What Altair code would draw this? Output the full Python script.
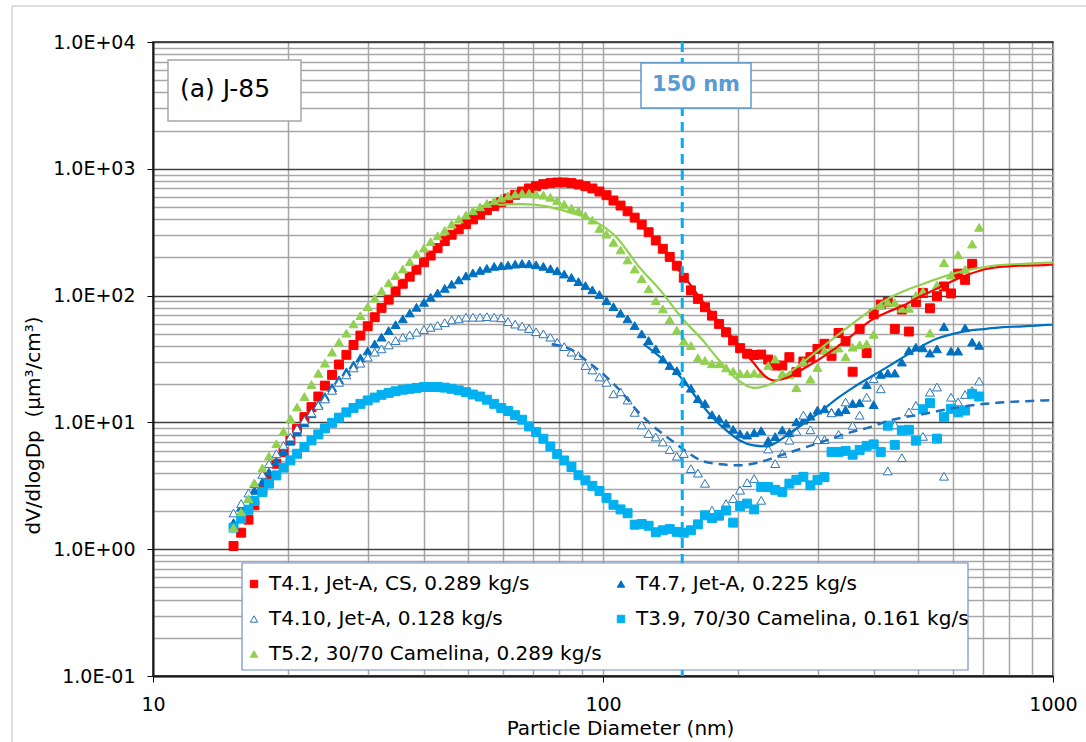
import altair as alt
import pandas as pd

FONT = "DejaVu Sans"

# SMPS bin mid-point diameters (nm), 64 channels per decade
diameter_nm = [15.1, 15.7, 16.3, 16.8, 17.5, 18.1, 18.8, 19.5, 20.2, 20.9,
               21.7, 22.5, 23.3, 24.1, 25.0, 25.9, 26.9, 27.9, 28.9, 30.0,
               31.1, 32.2, 33.4, 34.6, 35.9, 37.2, 38.5, 40.0, 41.4, 42.9,
               44.5, 46.1, 47.8, 49.6, 51.4, 53.3, 55.2, 57.3, 59.4, 61.5,
               63.8, 66.1, 68.5, 71.0, 73.7, 76.4, 79.1, 82.0, 85.1, 88.2,
               91.4, 94.7, 98.2, 101.8, 105.5, 109.4, 113.4, 117.6, 121.9, 126.3,
               131.0, 135.8, 140.7, 145.9, 151.2, 156.8, 162.5, 168.5, 174.7, 181.1,
               187.7, 194.6, 201.7, 209.1, 216.7, 224.7, 232.9, 241.4, 250.3, 259.5,
               269.0, 278.8, 289.0, 299.6, 310.6, 322.0, 333.8, 346.0, 358.7, 371.8,
               385.4, 399.5, 414.2, 429.4, 445.1, 461.4, 478.3, 495.8, 514.0, 532.8,
               552.3, 572.5, 593.5, 615.3, 637.8, 661.2, 685.4]

# dV/dlogDp (um^3/cm^3) per test point
t4_1 = [1.06, 1.35, 1.71, 2.22, 2.91, 3.71, 4.72, 5.83, 7.21, 8.91,
        11.0, 13.2, 16.0, 19.5, 23.7, 28.6, 34.1, 40.8, 48.4, 57.3,
        67.5, 80.0, 92.9, 108, 124, 141, 160, 183, 207, 237,
        269, 302, 333, 366, 399, 435, 472, 508, 546, 583,
        624, 662, 700, 729, 757, 771, 780, 780, 771, 752,
        729, 700, 662, 619, 562, 513, 462, 412, 363, 316,
        272, 234, 202, 172, 138, 110, 94.2, 80.9, 69.5, 59.8,
        51.4, 44.2, 38.5, 34.8, 34.0, 34.3, 31.3, 28.1, 28.1, 32.7,
        24.9, 30.2, 32.7, 38.0, 41.7, 33.5, 50.7, 43.7, 25.1, 54.6,
        35.2, 71.3, 84.9, 89.1, 54.6, 77.6, 52.1, 88.7, 105, 79.4,
        98.9, 118, 104, 149, 133, 178]

t4_7 = [1.62, 2.15, 2.51, 2.91, 3.39, 4.06, 4.93, 5.90, 7.13, 8.39,
        9.93, 11.7, 13.8, 16.0, 18.8, 21.7, 25.1, 28.4, 32.3, 36.6,
        41.6, 47.0, 53.0, 59.0, 65.5, 72.9, 80.9, 88.5, 97.0, 105,
        114, 123, 133, 143, 151, 158, 164, 170, 172, 174,
        177, 179, 178, 175, 170, 163, 157, 148, 139, 129,
        120, 111, 102, 91.2, 81.8, 72.6, 65.5, 58.1, 49.9, 44.2,
        38.0, 31.6, 28.1, 25.6, 21.1, 18.6, 15.4, 14.1, 11.5, 10.7,
        9.84, 8.83, 8.13, 7.94, 8.32, 8.61, 7.18, 7.73, 8.71, 8.32,
        10.1, 10.4, 11.2, 12.5, 12.8, 12.0, 12.1, 12.6, 14.1, 14.3,
        19.9, 13.8, 23.9, 24.5, 24.5, 29.9, 36.9, 39.2, 38.7, 35.2,
        38.0, 57.0, 36.5, 36.5, 55.7, 43.0, 40.5]

t4_10 = [1.93, 2.29, 2.77, 3.29, 3.89, 4.72, 5.66, 6.59, 7.66, 8.91,
         10.4, 11.9, 13.6, 15.3, 17.9, 20.7, 23.7, 26.9, 29.3, 32.7,
         35.8, 38.0, 40.8, 44.2, 47.0, 49.0, 51.4, 54.0, 56.2, 58.3,
         61.1, 64.3, 65.5, 67.5, 67.5, 67.5, 68.2, 67.5, 66.8, 62.4,
         59.6, 57.5, 55.0, 51.9, 49.9, 47.0, 42.9, 39.6, 35.8, 33.7,
         28.1, 25.9, 22.8, 20.7, 16.8, 17.4, 15.0, 12.0, 9.55, 8.18,
         7.67, 7.00, 6.11, 5.41, 5.68, 4.32, 3.98, 3.31, 2.03, 1.82,
         2.29, 2.51, 2.92, 3.35, 3.61, 2.43, 6.17, 4.73, 5.69, 7.24,
         8.51, 11.4, 8.75, 7.31, 7.31, 11.9, 8.05, 14.5, 9.48, 11.4,
         15.8, 22.1, 18.4, 4.14, 9.55, 5.27, 12.1, 13.6, 7.76, 17.3,
         19.0, 3.76, 15.8, 14.5, 16.6, 17.8, 21.2]

t3_9 = [1.48, 1.74, 2.05, 2.40, 2.82, 3.29, 3.82, 4.40, 5.02, 5.66,
        6.40, 7.21, 8.04, 8.97, 9.93, 10.9, 12.0, 13.0, 14.0, 14.9,
        15.7, 16.5, 17.1, 17.6, 18.1, 18.4, 18.7, 19.0, 19.0, 19.0,
        18.8, 18.4, 17.9, 17.3, 16.6, 16.0, 15.1, 14.0, 13.0, 12.3,
        11.4, 10.5, 9.29, 8.39, 7.43, 6.46, 5.62, 5.01, 4.45, 3.83,
        3.49, 3.16, 2.88, 2.54, 2.24, 2.06, 1.92, 1.56, 1.58, 1.53,
        1.36, 1.41, 1.44, 1.37, 1.35, 1.41, 1.57, 1.85, 1.76, 1.86,
        2.02, 1.62, 2.19, 2.29, 2.06, 3.10, 3.09, 2.94, 2.83, 3.29,
        3.52, 3.72, 3.19, 3.52, 3.70, 5.85, 5.85, 5.96, 5.56, 6.07,
        6.53, 6.71, 5.85, 9.42, 6.65, 8.65, 8.75, 7.18, 12.7, 14.2,
        7.45, 11.0, 12.8, 12.0, 12.4, 16.8, 16.0]

t5_2 = [1.48, 1.97, 2.51, 3.33, 4.37, 5.43, 6.79, 8.51, 10.7, 13.2,
        16.0, 19.9, 24.4, 29.3, 35.8, 42.9, 50.5, 59.8, 69.5, 81.8,
        95.3, 109, 126, 144, 162, 185, 213, 237, 266, 296,
        327, 366, 401, 432, 467, 501, 533, 560, 587, 612,
        631, 643, 643, 631, 619, 596, 562, 525, 490, 468,
        427, 394, 339, 305, 263, 229, 191, 162, 136, 113,
        91.2, 78.5, 64.6, 53.3, 43.7, 40.4, 32.3, 30.8, 29.0, 29.0,
        26.9, 25.4, 24.3, 24.2, 24.5, 24.2, 28.1, 31.6, 24.3, 23.7,
        18.8, 30.1, 21.9, 27.1, 36.9, 37.7, 38.6, 32.9, 39.2, 40.9,
        41.7, 49.5, 83.4, 88.7, 88.1, 79.4, 79.4, 100, 108, 50.7,
        121, 182, 145, 210, 161, 255, 345]

# Fitted curves
fit_t4_1_d = [145, 152, 166, 181, 198, 216, 228, 240, 256, 279, 304, 331, 361,
              393, 428, 465, 506, 551, 600, 653, 711, 774, 841, 973, 1000]
fit_t4_1_v = [170, 139, 91, 62, 42.9, 29.5, 23.5, 21.4, 22.5, 26.5, 31.8, 39.2, 49.9,
              63.5, 74.0, 83.4, 98.2, 113, 131, 148, 162, 169, 172, 175, 176]

fit_t5_2_d = [58.6, 66, 75, 84, 96, 107, 120, 135, 150, 166, 181, 198, 216, 236,
              257, 307, 366, 436, 519, 618, 736, 877, 1000]
fit_t5_2_v = [520, 527, 505, 455, 385, 290, 170, 107, 66, 45, 31, 22, 18.7, 20.1,
              24.2, 39.2, 63.5, 97, 125, 153, 172, 179, 183]

fit_t4_7_d = [123, 151, 163, 175, 188, 201, 216, 232, 240, 256, 279, 304, 331, 361,
              393, 428, 465, 506, 551, 600, 653, 711, 774, 841, 973, 1000]
fit_t4_7_v = [41.6, 21.4, 14.9, 11.0, 8.65, 7.23, 6.59, 6.47, 6.79, 7.91, 9.77, 12.1,
              15.4, 19.0, 22.8, 27.3, 32.7, 39.2, 45.6, 49.9, 53.1, 54.7, 56.4, 57.0,
              58.7, 59.0]

fit_t4_10_d = [76.9, 85.1, 92.7, 101, 110, 119, 130, 142, 152, 165, 183, 201, 224,
               248, 276, 306, 347, 392, 436, 519, 618, 736, 957, 1000]
fit_t4_10_v = [41.6, 37.4, 29.9, 23.4, 17.3, 12.4, 9.18, 7.21, 6.01, 5.02, 4.67, 4.59,
               4.88, 5.50, 6.21, 7.00, 8.15, 9.18, 10.4, 11.7, 13.2, 14.2, 14.9, 15.0]

cutoff_nm = 150

series_names = ["T4.1, Jet-A, CS, 0.289 kg/s",
                "T4.7, Jet-A, 0.225 kg/s",
                "T4.10, Jet-A, 0.128 kg/s",
                "T3.9, 70/30 Camelina, 0.161 kg/s",
                "T5.2, 30/70 Camelina, 0.289 kg/s"]
series_values = [t4_1, t4_7, t4_10, t3_9, t5_2]
fill_colors = ["#FF0000", "#0070C0", "#FFFFFF", "#00B0F0", "#92D050"]
stroke_colors = ["#FF0000", "#0070C0", "#2E75B6", "#00B0F0", "#92D050"]
shapes = ["square", "triangle-up", "triangle-up", "square", "triangle-up"]

# legend fills its two columns top-to-bottom, so list entries column by column
legend_order = [0, 2, 4, 1, 3]
legend_domain = [series_names[i] for i in legend_order]
legend_fills = [fill_colors[i] for i in legend_order]
legend_strokes = [stroke_colors[i] for i in legend_order]
legend_shapes = [shapes[i] for i in legend_order]

x_ticks = [10, 20, 30, 40, 50, 60, 70, 80, 90,
           100, 200, 300, 400, 500, 600, 700, 800, 900, 1000]
y_ticks = [0.1, 0.2, 0.3, 0.4, 0.5, 0.6, 0.7, 0.8, 0.9,
           1, 2, 3, 4, 5, 6, 7, 8, 9,
           10, 20, 30, 40, 50, 60, 70, 80, 90,
           100, 200, 300, 400, 500, 600, 700, 800, 900,
           1000, 2000, 3000, 4000, 5000, 6000, 7000, 8000, 9000, 10000]
y_labels = [(0.1, "1.0E-01"), (1, "1.0E+00"), (10, "1.0E+01"),
            (100, "1.0E+02"), (1000, "1.0E+03"), (10000, "1.0E+04")]

# long-format table, rows in drawing order (later series on top)
rows = []
for name, vals in zip(series_names, series_values):
    for d, v in zip(diameter_nm, vals):
        rows.append({"series": name, "D": d, "V": v})
points_df = pd.DataFrame(rows)

x_major = "datum.value == 10 || datum.value == 100 || datum.value == 1000"
y_major = " || ".join(f"datum.value == {v}" for v, _ in y_labels)
y_label_expr = " : ".join(f"datum.value == {v} ? '{s}'" for v, s in y_labels) + " : ''"

x_scale = alt.Scale(type="log", domain=[10, 1000], nice=False)
y_scale = alt.Scale(type="log", domain=[0.1, 10000], nice=False)

x_axis = alt.Axis(
    values=x_ticks, title="Particle Diameter (nm)",
    labelExpr=f"({x_major}) ? format(datum.value, 'd') : ''",
    labelFont=FONT, labelFontSize=19, labelColor="#000000",
    labelPadding=13, labelFlush=False, labelOverlap=False,
    tickSize=6, tickColor="#000000", tickWidth=1,
    tickOpacity={"condition": {"test": x_major, "value": 1}, "value": 0},
    domainColor="#1A1A1A", domainWidth=2,
    grid=True, gridColor="#A6A6A6", gridWidth=1.5,
    titleFont=FONT, titleFontSize=20, titleFontWeight="normal", titleColor="#000000",
    titleX=467, titleY=52, titleAlign="center", titleBaseline="middle",
)
y_axis = alt.Axis(
    values=y_ticks, title="dV/dlogDp\u00a0\u00a0(\u03bcm\u00b3/cm\u00b3)",
    labelExpr=y_label_expr,
    labelFont=FONT, labelFontSize=19, labelColor="#000000",
    labelPadding=12, labelFlush=False, labelOverlap=False,
    tickSize=6, tickColor="#000000", tickWidth=1,
    tickOpacity={"condition": {"test": y_major, "value": 1}, "value": 0},
    domainColor="#1A1A1A", domainWidth=2,
    grid=True, gridWidth=1.3,
    gridColor={"condition": {"test": y_major, "value": "#404040"}, "value": "#A6A6A6"},
    titleFont=FONT, titleFontSize=20, titleFontWeight="normal", titleColor="#000000",
    titleAngle=270, titleX=-120, titleY=383, titleAlign="center", titleBaseline="middle",
)


def xy():
    return {
        "x": alt.X("D:Q", scale=x_scale, axis=x_axis),
        "y": alt.Y("V:Q", scale=y_scale, axis=y_axis),
    }


legend = alt.Legend(
    title=None, orient="none", legendX=91, legendY=532, columns=2,
    columnPadding=9, rowPadding=15, padding=0,
    labelFont=FONT, labelFontSize=20, labelColor="#000000", labelLimit=420,
    labelOffset=5, symbolSize=55, symbolStrokeWidth=1,
)

points = alt.Chart(points_df).mark_point(
    filled=True, size=80, strokeWidth=1, opacity=1
).encode(
    **xy(),
    shape=alt.Shape("series:N", scale=alt.Scale(domain=legend_domain, range=legend_shapes), legend=legend),
    fill=alt.Fill("series:N", scale=alt.Scale(domain=legend_domain, range=legend_fills), legend=legend),
    stroke=alt.Stroke("series:N", scale=alt.Scale(domain=legend_domain, range=legend_strokes), legend=legend),
)


def fit_line(ds, vs, color, dash=None):
    df = pd.DataFrame({"D": ds, "V": vs})
    kwargs = dict(color=color, strokeWidth=2.2, interpolate="monotone")
    if dash:
        kwargs["strokeDash"] = dash
        kwargs["strokeWidth"] = 2.5
    return alt.Chart(df).mark_line(**kwargs).encode(**xy())


line_t4_1 = fit_line(fit_t4_1_d, fit_t4_1_v, "#FF0000")
line_t5_2 = fit_line(fit_t5_2_d, fit_t5_2_v, "#92D050")
line_t4_7 = fit_line(fit_t4_7_d, fit_t4_7_v, "#0070C0")
line_t4_10 = fit_line(fit_t4_10_d, fit_t4_10_v, "#1F6FBF", dash=[9, 6])

cutoff_rule = alt.Chart(pd.DataFrame({"D": [cutoff_nm]})).mark_rule(
    color="#00B0F0", strokeWidth=3, strokeDash=[10, 6]
).encode(x=alt.X("D:Q", scale=x_scale, axis=x_axis))

one = pd.DataFrame({"k": [0]})

# outer figure frame (only its top and left edges fall inside the canvas)
frame = alt.Chart(one).mark_rect(fillOpacity=0, stroke="#BFBFBF", strokeWidth=1).encode(
    x=alt.value(-141), x2=alt.value(960), y=alt.value(-36), y2=alt.value(730)
)

panel_box = alt.Chart(one).mark_rect(fill="#FFFFFF", stroke="#A6A6A6", strokeWidth=1.5).encode(
    x=alt.value(15), x2=alt.value(148), y=alt.value(18), y2=alt.value(79)
)
panel_text = alt.Chart(one).mark_text(
    text="(a) J-85", font=FONT, fontSize=25, color="#000000", align="left", baseline="middle"
).encode(x=alt.value(27), y=alt.value(47))

cutoff_box = alt.Chart(one).mark_rect(fill="#FFFFFF", stroke="#5B9BD5", strokeWidth=1.5).encode(
    x=alt.value(488), x2=alt.value(598), y=alt.value(21), y2=alt.value(66)
)
cutoff_text = alt.Chart(one).mark_text(
    text=f"{cutoff_nm} nm", font=FONT, fontSize=21, fontWeight="bold", color="#5B9BD5",
    align="center", baseline="middle"
).encode(x=alt.value(543), y=alt.value(43))

# white panel behind the legend entries
legend_box = alt.Chart(one).mark_rect(fill="#FFFFFF", stroke="#7090C8", strokeWidth=1.2).encode(
    x=alt.value(89), x2=alt.value(815), y=alt.value(521), y2=alt.value(628)
)

chart = alt.layer(
    frame, points, line_t4_1, line_t5_2, line_t4_7, line_t4_10, cutoff_rule,
    panel_box, panel_text, cutoff_box, cutoff_text, legend_box,
).properties(
    width=900, height=634,
    padding={"left": 153, "top": 42, "right": 33, "bottom": 66},
    autosize=alt.AutoSizeParams(type="none"),
).configure(
    background="#FFFFFF", font=FONT
).configure_view(
    stroke="#1A1A1A", strokeWidth=1.5
)

chart.save("out.html", embed_options={"renderer": "svg", "actions": False})
